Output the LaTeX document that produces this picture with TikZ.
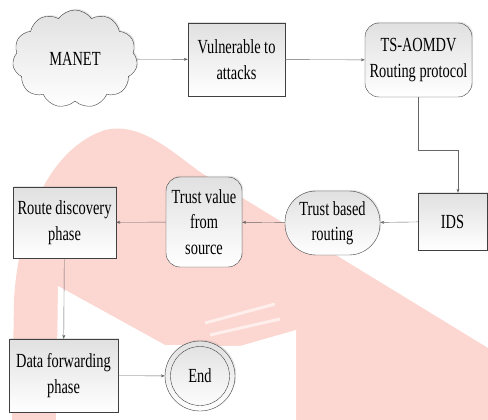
\documentclass[tikz,border=0pt]{standalone}
\usepackage{fontspec}
\setmainfont[FakeStretch=0.72]{Liberation Serif}
\usepackage{xcolor}
\usepackage{tikz}
\usetikzlibrary{shapes.symbols,arrows.meta,shadows}
\definecolor{wmpink}{RGB}{252,214,208}

\begin{document}
\begin{tikzpicture}[x=1pt,y=-1pt,
  every node/.style={font=\fontsize{20}{25.5}\selectfont,align=center,inner sep=0pt},
  base/.style={draw=black!75,top color=black!12,bottom color=white,
    drop shadow={shadow xshift=1.2pt,shadow yshift=1.2pt,opacity=0.2}},
  proc/.style={base,rectangle},
  roundproc/.style={base,rectangle,rounded corners=14pt},
  pill/.style={base,rectangle,rounded corners=31pt},
  link/.style={draw=black!60,-{Stealth[length=4pt,width=3pt]}}]
  \useasboundingbox (0,0) rectangle (488,420);
  % watermark in the background
  \fill[wmpink] (12,420) -- (14,300) .. controls (18,230) and (45,150) .. (105,130)
    .. controls (140,122) and (170,150) .. (200,172) -- (488,348) -- (488,420) -- cycle;
  \fill[white] (56,420) -- (58,286) -- (165,345) -- (240,346) -- (296,330) -- (296,420) -- cycle;
  \draw[white!60!wmpink,line width=3pt] (205,323) -- (275,304) (210,335) -- (280,319);
  % nodes
  \node[base,cloud,cloud puffs=11,cloud puff arc=110,aspect=1.3,
    minimum width=125pt,minimum height=98pt] (manet) at (75,59) {MANET};
  \node[proc,minimum width=97pt,minimum height=73pt] (vuln) at (236.5,59.5) {Vulnerable to\\attacks};
  \node[roundproc,minimum width=107pt,minimum height=74pt] (tsaomdv) at (418.5,60) {TS-AOMDV\\Routing protocol};
  \node[proc,minimum width=69pt,minimum height=57pt] (ids) at (452.5,221.5) {IDS};
  \node[pill,minimum width=95pt,minimum height=64pt] (tbr) at (332.5,223) {Trust based\\routing};
  \node[roundproc,minimum width=76pt,minimum height=90pt] (tvs) at (204,222) {Trust value\\from\\source};
  \node[proc,minimum width=103pt,minimum height=71pt] (rdp) at (64.5,222.5) {Route discovery\\phase};
  \node[proc,minimum width=109pt,minimum height=73pt] (dfp) at (63.5,375.5) {Data forwarding\\phase};
  \node[base,circle,minimum size=70pt] (endring) at (200,376) {};
  \node[circle,draw=black!75,minimum size=59pt] (end) at (endring) {End};
  \coordinate (turn) at (458,150);
  % connectors
  \draw[link] (manet) -- (vuln);
  \draw[link] (vuln) -- (tsaomdv);
  \draw[link] (tsaomdv.south) |- (turn) -- (turn |- ids.north);
  \draw[link] (ids) -- (tbr);
  \draw[link] (tbr) -- (tvs);
  \draw[link] (tvs) -- (rdp);
  \draw[link] (rdp) -- (dfp);
  \draw[link] (dfp) -- (endring);
\end{tikzpicture}
\end{document}
